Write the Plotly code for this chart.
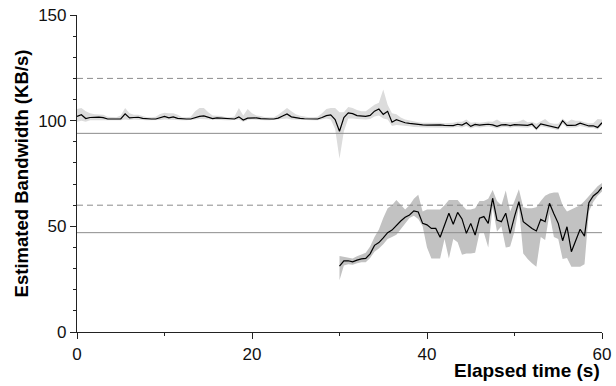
import plotly.graph_objects as go

# ---- data ----
t_up = [i * 0.5 for i in range(121)]
up_mid = [102, 102.8, 101, 101.5, 101.6, 101.7, 101.4, 100.8, 100.8, 100.8,
          100.8, 103.2, 101.3, 101.5, 101.6, 101.1, 100.8, 100.8, 100.8, 101.3,
          102, 101.3, 101.8, 101.1, 100.8, 100.8, 100.8, 101.5, 102, 102.3,
          101.8, 101.0, 101.3, 101.2, 100.8, 100.8, 100.8, 101.8, 100.3, 101.2,
          101.3, 101.3, 101.0, 100.8, 100.8, 100.8, 101.2, 102.2, 103.2, 101.8,
          101.3, 101.1, 100.9, 100.8, 100.8, 100.8, 101.5, 102.4, 102.7, 100.5,
          95, 101.5, 103.7, 103.3, 102.4, 102.1, 102, 102.5, 104.5, 105.5,
          103, 104.4, 99.3, 100.5, 99.6, 99.0, 98.7, 98.4, 98.3, 98.0,
          97.9, 97.9, 98.2, 98.0, 97.8, 97.8, 97.7, 98.3, 97.9, 99.0,
          97.3, 98.2, 97.9, 98.1, 98.3, 98.0, 97.3, 98.0, 98.1, 97.7,
          98.1, 98.0, 97.9, 97.8, 98.4, 96.2, 98.5, 98.0, 97.5, 97.0,
          96.5, 100.0, 97.8, 97.8, 97.9, 98.8, 98.0, 97.5, 97.6, 96.8,
          99.0]
up_hi = [105.5, 106, 104.5, 103.5, 103, 103, 102.8, 101.8, 101.6, 101.6,
         102.5, 106, 103.5, 102.8, 102.8, 102.3, 101.6, 101.6, 101.8, 103.2,
         103.8, 103.5, 103.5, 102.8, 101.6, 101.6, 101.8, 104.5, 106, 106,
         104, 102.5, 102.5, 102.2, 101.6, 101.6, 102, 106, 102.5, 105.5,
         103.5, 102.5, 102.2, 101.6, 101.6, 101.6, 102.8, 104.5, 106, 104.5,
         103, 102.3, 101.8, 101.6, 101.6, 101.8, 103.5, 105.5, 106, 106,
         104, 104, 106.5, 106, 105, 104.5, 104.5, 106, 107.5, 108.5,
         114.7, 107.5, 103.5, 103, 101.5, 100.5, 100, 99.5, 99.3, 99.0,
         99.0, 99.0, 99.3, 99.0, 98.8, 98.8, 99.0, 99.5, 99.5, 100.6,
         99.0, 99.3, 99.0, 99.2, 99.6, 99.5, 100.6, 99.2, 99.2, 99.0,
         99.3, 99.6, 100.6, 99.2, 99.5, 98.5, 99.6, 100.8, 99.0, 98.5,
         98.5, 101.0, 99.2, 100.5, 100.0, 100.0, 99.2, 98.8, 98.8, 100.8,
         100.5]
up_lo = [99.5, 100, 99.5, 100.2, 100.5, 100.5, 100.2, 100.2, 100.2, 100.2,
         100.2, 100.5, 100.3, 100.5, 100.5, 100.3, 100.2, 100.2, 100.2, 100.3,
         100.5, 100.3, 100.5, 100.3, 100.2, 100.2, 100.2, 100.5, 100.8, 100.8,
         100.5, 100.3, 100.3, 100.3, 100.2, 100.2, 100.2, 100.5, 99.5, 100.3,
         100.5, 100.5, 100.3, 100.2, 100.2, 100.2, 100.3, 100.8, 101, 100.5,
         100.3, 100.3, 100.2, 100.2, 100.2, 100.2, 100.5, 101, 100.5, 96,
         82, 95, 101, 101, 100.8, 100.5, 100.5, 100.8, 102, 102.5,
         101, 100.5, 97.5, 98, 97.8, 97.5, 97.3, 97.0, 97.0, 96.8,
         96.8, 96.8, 97.0, 96.8, 96.7, 96.7, 96.7, 97.0, 96.8, 97.5,
         96.3, 97.0, 96.8, 97.0, 97.2, 96.9, 96.3, 96.9, 97.0, 96.6,
         97.0, 96.9, 96.8, 96.7, 97.2, 95.3, 97.3, 96.9, 96.5, 96.0,
         95.5, 98.5, 96.7, 96.7, 96.8, 97.5, 96.9, 96.5, 96.5, 95.8,
         97.8]

t_lo = [30 + i * 0.5 for i in range(61)]
lo_mid = [31.2, 33.7, 33.7, 33.2, 34.0, 34.6, 34.8, 37.0, 41.0, 42.3,
          44.5, 47.0, 48.2, 50.6, 52.5, 54.3, 55.4, 57.3, 56.8, 51.4,
          50.7, 49.0, 49.0, 44.8, 50.5, 56.2, 51.0, 56.6, 53.5, 46.7,
          51.4, 45.9, 53.8, 54.6, 51.4, 63.3, 53.0, 52.2, 56.2, 46.7,
          54.6, 61.7, 52.2, 50.5, 49.0, 47.8, 53.3, 52.2, 60.9, 56.0,
          51.4, 43.2, 49.8, 38.0, 43.5, 48.6, 45.4, 61.2, 64.4, 66.0,
          68.5]
lo_hi = [36, 35.5, 35, 34.8, 35.8, 36.5, 37.5, 40.5, 45, 48.5,
         54, 58.5, 60, 62.5, 60, 58, 60, 63, 65, 57,
         58, 58, 58, 58, 60, 62.5, 62.5, 62.5, 60, 58,
         58, 58.5, 62, 62, 63, 67.2, 62, 60, 67, 57,
         62, 67.5, 59, 58.5, 58.5, 59, 62, 64.5, 65.5, 66,
         66, 60, 57, 58, 59, 60, 62, 64.5, 67, 69,
         70.5]
lo_lo = [24.5, 31.5, 32, 31.8, 32.5, 33, 33, 35, 38, 39.5,
         41.5, 44, 45, 46, 49, 51.5, 54, 55, 53.5, 50,
         40, 34.8, 34.8, 34.8, 44, 34.8, 44, 42.5, 36.5, 37.2,
         37.2, 37.5, 47, 47, 40, 59, 47.5, 50, 40, 40.4,
         47.5, 59, 37.2, 34.5, 32.5, 30.9, 45, 43.5, 56, 45,
         44, 34.5, 35, 30.9, 30.9, 30.9, 32, 57, 61.5, 64.5,
         66.5]

ref_dashed = [120, 60]
ref_solid = [94, 47]

x_ticks = [0, 20, 40, 60]
y_ticks = [0, 50, 100, 150]

fig = go.Figure()

# bands
fig.add_trace(go.Scatter(x=t_up + t_up[::-1], y=up_hi + up_lo[::-1], fill="toself",
                         fillcolor="#dcdcdc", line=dict(width=0), mode="lines",
                         hoverinfo="skip", showlegend=False))
fig.add_trace(go.Scatter(x=t_lo + t_lo[::-1], y=lo_hi + lo_lo[::-1], fill="toself",
                         fillcolor="#c2c2c2", line=dict(width=0), mode="lines",
                         hoverinfo="skip", showlegend=False))

# reference lines
for v in ref_dashed:
    fig.add_trace(go.Scatter(x=[0, 60], y=[v, v], mode="lines",
                             line=dict(color="#8c8c8c", width=1, dash="6px,4px"),
                             showlegend=False, hoverinfo="skip"))
for v in ref_solid:
    fig.add_trace(go.Scatter(x=[0, 60], y=[v, v], mode="lines",
                             line=dict(color="#8c8c8c", width=1),
                             showlegend=False, hoverinfo="skip"))

# data lines
fig.add_trace(go.Scatter(x=t_up, y=up_mid, mode="lines",
                         line=dict(color="black", width=1.2), showlegend=False))
fig.add_trace(go.Scatter(x=t_lo, y=lo_mid, mode="lines",
                         line=dict(color="black", width=1.2), showlegend=False))

fig.update_layout(
    width=616, height=386,
    margin=dict(l=77, r=14, t=15, b=54, autoexpand=False),
    plot_bgcolor="white", paper_bgcolor="white",
    font=dict(family="Liberation Sans, Arial, sans-serif", size=17, color="#111"),
    showlegend=False,
)
fig.update_xaxes(range=[0, 60], tickvals=x_ticks, ticks="outside", ticklen=6,
                 tickcolor="#222", showline=True, linecolor="#222", linewidth=1.2,
                 showgrid=False, zeroline=False, automargin=False,
                 minor=dict(dtick=10, ticks="outside", ticklen=3, tickcolor="#222"),
                 tickfont=dict(size=17))
fig.update_yaxes(range=[0, 150], tickvals=y_ticks, ticks="outside", ticklen=6,
                 tickcolor="#222", showline=True, linecolor="#222", linewidth=1.2,
                 showgrid=False, zeroline=False, automargin=False,
                 minor=dict(dtick=10, ticks="outside", ticklen=3, tickcolor="#222"),
                 tickfont=dict(size=17))

fig.add_annotation(text="<b>Estimated Bandwidth (KB/s)</b>", textangle=-90,
                   xref="paper", yref="paper", x=-0.105, y=0.5,
                   xanchor="center", yanchor="middle", showarrow=False,
                   font=dict(family="Liberation Sans, Arial, sans-serif",
                             size=18.5, color="black"))
fig.add_annotation(text="<b>Elapsed time (s)</b>", xref="paper", yref="paper",
                   x=1.0, y=-0.083, xanchor="right", yanchor="top", showarrow=False,
                   font=dict(family="Liberation Sans, Arial, sans-serif",
                             size=19, color="black"))
fig.add_annotation(text="(a)", xref="paper", yref="paper", x=0.17, y=1.049,
                   xanchor="center", yanchor="bottom", showarrow=False,
                   font=dict(size=17, color="black"))

fig.write_html("out.html")
